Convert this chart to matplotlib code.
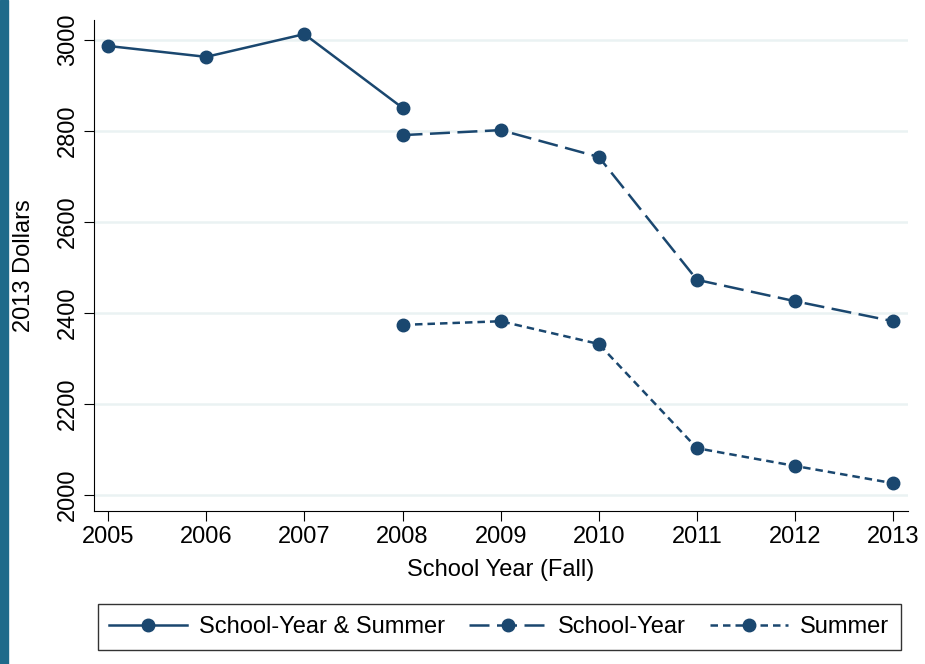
import matplotlib
matplotlib.use("Agg")
import matplotlib.pyplot as plt
from matplotlib.patches import Rectangle

plt.rcParams['font.family'] = ['Liberation Sans', 'DejaVu Sans']

# --- Data (2013 dollars) ---
years_all = [2005, 2006, 2007, 2008]
combined = [2987, 2963, 3013, 2851]

years_split = [2008, 2009, 2010, 2011, 2012, 2013]
school_year = [2791, 2802, 2743, 2473, 2426, 2382]
summer = [2374, 2382, 2332, 2103, 2064, 2026]

xticks = list(range(2005, 2014))
yticks = [2000, 2200, 2400, 2600, 2800, 3000]

navy = '#1a476f'
fs = 17

fig = plt.figure(figsize=(9.25, 6.64), dpi=100)
ax = fig.add_axes([94 / 925, 1 - 511 / 664, (908 - 94) / 925, (511 - 20) / 664])

# teal strip on the left edge
fig.patches.append(Rectangle((0, 0), 8 / 925, 1, transform=fig.transFigure,
                             color='#1f6a8a', zorder=0))

ax.plot(years_all, combined, color=navy, lw=1.8, marker='o', ms=9,
        label='School-Year & Summer')
ax.plot(years_split, school_year, color=navy, lw=1.8, marker='o', ms=9,
        dashes=(8, 3), label='School-Year')
ax.plot(years_split, summer, color=navy, lw=1.8, marker='o', ms=9,
        dashes=(3, 2), label='Summer')

ax.set_xlim(2004.857, 2013.15)
ax.set_ylim(1965, 3044)
ax.set_xticks(xticks)
ax.set_yticks(yticks)
ax.tick_params(labelsize=fs, length=7, pad=4)
for lbl in ax.get_yticklabels():
    lbl.set_rotation(90)
    lbl.set_va('center')

ax.grid(axis='y', color='#eaf2f3', lw=1.8)
ax.set_axisbelow(True)
for s in ['top', 'right']:
    ax.spines[s].set_visible(False)

ax.set_xlabel('School Year (Fall)', fontsize=fs, labelpad=8)
ax.set_ylabel('2013 Dollars', fontsize=fs, labelpad=16)

fig.legend(loc='center', bbox_to_anchor=(499 / 925, 1 - 627 / 664), ncol=3,
           fontsize=fs, frameon=True, fancybox=False, edgecolor='black',
           handlelength=3.3, columnspacing=1.0, handletextpad=0.5,
           borderpad=0.5)

fig.savefig('out.png', dpi=100)
